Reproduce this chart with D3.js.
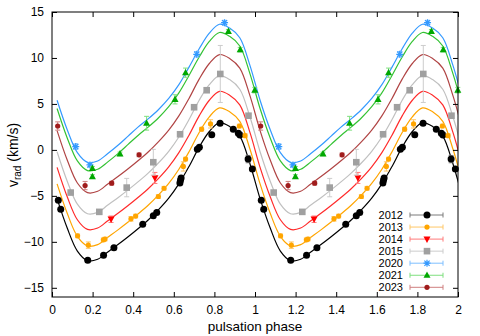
<!DOCTYPE html>
<html><head><meta charset="utf-8">
<script src="https://cdn.jsdelivr.net/npm/d3@7"></script>
<style>
html,body{margin:0;padding:0;background:#fff;}
svg{display:block;font-family:"Liberation Sans",Arial,Helvetica,sans-serif;}
</style></head>
<body><svg id="c" width="480" height="336"></svg>
<script>
// ---- data ----
const years = ["2012","2013","2014","2015","2020","2021","2023"];
const xTicks = [0,0.2,0.4,0.6,0.8,1,1.2,1.4,1.6,1.8,2];
const yTicks = [-15,-10,-5,0,5,10,15];
// phases at which the fitted curves are sampled (one period)
const fitPhase = [0.025,0.075,0.125,0.175,0.225,0.275,0.325,0.375,0.425,0.475,0.525,0.575,0.625,0.675,0.725,0.775,0.825,0.875,0.925,0.975];
const fit2012 = [-5.3,-8.5,-11.0,-12.05,-11.9,-11.1,-10.3,-9.45,-8.55,-7.6,-6.5,-5.25,-3.7,-1.8,0.3,2.0,2.97,2.55,1.5,-1.5];
const fit2013 = [-3.7,-6.9,-9.4,-10.45,-10.3,-9.5,-8.7,-7.85,-6.95,-6.0,-4.9,-3.65,-2.1,-0.2,1.9,3.6,4.57,4.15,3.1,0.1];
const fit2014 = [-1.9,-5.1,-7.6,-8.65,-8.5,-7.7,-6.9,-6.05,-5.15,-4.2,-3.1,-1.85,-0.3,1.6,3.7,5.4,6.37,5.95,4.9,1.9];
const fit2015 = [-0.2,-3.4,-5.9,-6.95,-6.8,-6.0,-5.2,-4.35,-3.45,-2.5,-1.4,-0.15,1.4,3.3,5.4,7.1,8.07,7.65,6.6,3.6];
const fit2020 = [5.4,2.2,-0.3,-1.35,-1.2,-0.4,0.5,1.5,2.5,3.4,4.4,5.6,7.1,9.0,11.0,12.7,13.67,13.25,12.2,9.2];
const fit2021 = [4.5,1.3,-1.2,-2.25,-2.1,-1.3,-0.4,0.6,1.6,2.5,3.5,4.7,6.2,8.1,10.1,11.8,12.77,12.35,11.3,8.3];
const fit2023 = [2.1,-1.1,-3.6,-4.65,-4.5,-3.7,-2.9,-2.05,-1.15,-0.2,0.9,2.15,3.7,5.6,7.7,9.4,10.37,9.95,8.9,5.9];
// measured points: [phase, v_rad, error]
const obs2012 = [[0.031,-5.47,0.15],[0.043,-6.45,0.15],[0.176,-12.0,0.15],[0.254,-11.45,0.15],[0.305,-10.65,0.15],[0.447,-8.08,0.15],[0.499,-7.17,0.15],[0.516,-6.81,0.15],[0.630,-3.6,0.15],[0.633,-3.3,0.15],[0.636,-3.05,0.15],[0.716,0.08,0.15],[0.726,0.3,0.15],[0.787,1.65,0.15],[0.828,2.9,0.15],[0.893,2.25,0.15],[0.918,1.8,0.15],[0.926,1.63,0.15],[0.966,-1.0,0.4],[0.987,-2.07,0.15]];
const obs2013 = [[0.126,-9.35,0.2],[0.179,-10.36,0.35],[0.253,-9.78,0.2],[0.261,-9.7,0.2],[0.389,-7.5,0.25],[0.412,-7.2,0.2],[0.524,-5.07,0.2],[0.552,-4.17,0.2],[0.647,-1.8,0.5],[0.658,-1.0,0.2],[0.737,2.25,0.2],[0.781,2.83,0.45],[0.923,2.6,0.2],[0.951,1.55,0.2]];
const obs2014 = [[0.291,-7.54,0.35],[0.507,-3.05,0.6]];
const obs2015 = [[0.092,-4.64,0.2],[0.233,-6.74,0.2],[0.368,-4.1,1.0],[0.499,-1.34,1.4],[0.631,1.7,0.2],[0.700,4.64,0.2],[0.762,6.49,0.2],[0.829,8.26,3.1],[0.968,3.72,0.2]];
const obs2020 = [[0.117,0.36,0.3],[0.187,-1.63,0.25],[0.713,10.4,0.3],[0.850,13.84,0.25]];
const obs2021 = [[0.199,-2.0,0.2],[0.199,-2.9,0.2],[0.335,-0.43,0.2],[0.466,2.9,0.75],[0.606,5.5,0.5],[0.658,8.4,0.5],[0.869,12.9,0.2],[0.927,10.9,0.25],[0.999,6.5,0.3]];
const obs2023 = [[0.028,2.6,0.45],[0.163,-3.88,0.45],[0.294,-3.62,0.2],[0.429,-0.54,0.2]];

const fits = [fit2012,fit2013,fit2014,fit2015,fit2020,fit2021,fit2023];
const obs = [obs2012,obs2013,obs2014,obs2015,obs2020,obs2021,obs2023];

// ---- styles ----
const lineCol = ["#000000","#ffa500","#ff2a2a","#c0c0c0","#3399ff","#33c233","#b04444"];
const markCol = ["#000000","#ffa500","#ff0000","#a0a0a0","#3399ff","#00a800","#a01c1c"];
const errCol  = ["#7a7a7a","#ffc766","#ff7a7a","#cccccc","#7fbfff","#7fdf7f","#cf7f7f"];
const shapes  = ["circle","smallcircle","tridown","square","star","triup","smallcircle"];

const svg = d3.select("#c");
const L=52,R=458,T=12,B=297;
const xs = d3.scaleLinear().domain([0,2]).range([L,R]);
const ys = d3.scaleLinear().domain([-16,15]).range([B,T]);

svg.append("defs").append("clipPath").attr("id","clip")
  .append("rect").attr("x",L).attr("y",T).attr("width",R-L).attr("height",B-T);

// curves
const line = d3.line().x(d=>xs(d[0])).y(d=>ys(d[1])).curve(d3.curveCatmullRom.alpha(0.5));
const gCurves = svg.append("g").attr("clip-path","url(#clip)");
fits.forEach((f,i)=>{
  const pts=[];
  for(let k=0;k<3;k++) fitPhase.forEach((p,j)=>{ const ph=p+k; if(ph<=2.1) pts.push([ph,f[j]]); });
  gCurves.append("path").datum(pts).attr("d",line)
    .attr("fill","none").attr("stroke",lineCol[i]).attr("stroke-width",1.2);
});

function marker(g,shape,col,cx,cy){
  if(shape==="circle") g.append("circle").attr("cx",cx).attr("cy",cy).attr("r",3.5).attr("fill",col);
  else if(shape==="smallcircle") g.append("circle").attr("cx",cx).attr("cy",cy).attr("r",2.6).attr("fill",col);
  else if(shape==="square") g.append("rect").attr("x",cx-3.3).attr("y",cy-3.3).attr("width",6.6).attr("height",6.6).attr("fill",col);
  else if(shape==="triup") g.append("path").attr("d",`M${cx},${cy-3.8}L${cx+3.5},${cy+2.6}L${cx-3.5},${cy+2.6}Z`).attr("fill",col);
  else if(shape==="tridown") g.append("path").attr("d",`M${cx},${cy+3.8}L${cx+3.5},${cy-2.6}L${cx-3.5},${cy-2.6}Z`).attr("fill",col);
  else if(shape==="star") g.append("path").attr("d",`M${cx-3.5},${cy}H${cx+3.5}M${cx},${cy-3.5}V${cy+3.5}M${cx-2.6},${cy-2.6}L${cx+2.6},${cy+2.6}M${cx-2.6},${cy+2.6}L${cx+2.6},${cy-2.6}`)
      .attr("stroke",col).attr("stroke-width",1.2).attr("fill","none");
}

// points with error bars
const gPts = svg.append("g");
obs.forEach((o,i)=>{
  const g = gPts.append("g");
  for(let k=0;k<2;k++){
    o.forEach(d=>{
      const cx=xs(d[0]+k), y1=ys(d[1]-d[2]), y2=ys(d[1]+d[2]);
      if(cx>R+0.5) return;
      g.append("path").attr("d",`M${cx},${y1}V${y2}M${cx-2.5},${y1}H${cx+2.5}M${cx-2.5},${y2}H${cx+2.5}`)
        .attr("stroke",errCol[i]).attr("stroke-width",1).attr("fill","none");
    });
    o.forEach(d=>{ const cx=xs(d[0]+k); if(cx>R+0.5) return; marker(g,shapes[i],markCol[i],cx,ys(d[1])); });
  }
});

// axes
const fontSize=12;
const ax = svg.append("g").attr("font-size",fontSize);
ax.append("g").attr("transform",`translate(0,${B})`)
  .call(d3.axisBottom(xs).tickValues(xTicks).tickSize(-5).tickPadding(8).tickFormat(d3.format("~g")));
ax.append("g").attr("transform",`translate(0,${T})`)
  .call(d3.axisTop(xs).tickValues(xTicks).tickSize(-5).tickFormat(""));
ax.append("g").attr("transform",`translate(${L},0)`)
  .call(d3.axisLeft(ys).tickValues(yTicks).tickSize(-5).tickPadding(8));
ax.append("g").attr("transform",`translate(${R},0)`)
  .call(d3.axisRight(ys).tickValues(yTicks).tickSize(-5).tickFormat(""));
ax.selectAll(".domain").remove();
ax.selectAll(".tick line").attr("stroke","#000");
ax.selectAll("text").attr("font-family","Liberation Sans, Arial, sans-serif").attr("font-size",fontSize).attr("fill","#000");
svg.append("rect").attr("x",L).attr("y",T).attr("width",R-L).attr("height",B-T)
  .attr("fill","none").attr("stroke","#000").attr("stroke-width",1);

// axis titles
svg.append("text").attr("x",(L+R)/2).attr("y",331).attr("text-anchor","middle")
  .attr("font-size",13.5).text("pulsation phase");
const yl = svg.append("text").attr("transform","translate(18,155) rotate(-90)")
  .attr("text-anchor","middle").attr("font-size",14);
yl.append("tspan").text("v");
yl.append("tspan").attr("font-size",10).attr("dy",3).text("rad");
yl.append("tspan").attr("dy",-3).text(" (km/s)");

// legend
const lg = svg.append("g").attr("font-size",10.5);
years.forEach((yr,i)=>{
  const cy = 215 + i*12.05;
  lg.append("text").attr("x",403).attr("y",cy).attr("dy","0.36em").attr("text-anchor","end").attr("font-size",11).text(yr);
  lg.append("path").attr("d",`M410,${cy}H443M410,${cy-2.5}V${cy+2.5}M443,${cy-2.5}V${cy+2.5}`)
    .attr("stroke",errCol[i]).attr("stroke-width",1).attr("fill","none");
  marker(lg,shapes[i],markCol[i],427,cy);
});
</script></body></html>
